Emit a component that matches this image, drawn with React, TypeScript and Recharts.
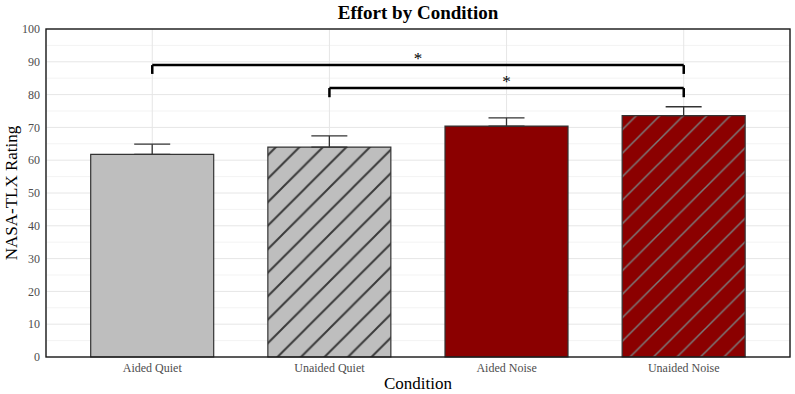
import React from 'react';
import {
  Bar,
  BarChart,
  CartesianGrid,
  Cell,
  ErrorBar,
  Label,
  ReferenceLine,
  XAxis,
  YAxis,
} from 'recharts';

const conditions = ['Aided Quiet', 'Unaided Quiet', 'Aided Noise', 'Unaided Noise'];
const meanRating = [61.8, 64.0, 70.4, 73.6];
const upperError = [3.1, 3.4, 2.5, 2.7];
const barFills = ['#bebebe', 'url(#hatchGray)', '#8b0000', 'url(#hatchRed)'];

const majorTicks = [0, 10, 20, 30, 40, 50, 60, 70, 80, 90, 100];
const minorTicks = [5, 15, 25, 35, 45, 55, 65, 75, 85, 95];

// significance brackets: [from, to, height, tick bottom]
const brackets: [string, string, number, number][] = [
  ['Aided Quiet', 'Unaided Noise', 89, 86.3],
  ['Unaided Quiet', 'Unaided Noise', 82, 79.2],
];

const data = conditions.map((name, i) => ({
  name,
  rating: meanRating[i],
  err: [0, upperError[i]],
}));

const FONT = '"Liberation Serif", "Times New Roman", serif';
const W = 795;
const H = 394;
const PLOT = { left: 46, top: 29, right: 790, bottom: 357 };

export default function App() {
  return (
    <div style={{ position: 'relative', width: W, height: H, fontFamily: FONT }}>
      <style>{`body{margin:0} .recharts-wrapper text{font-family:${FONT};}`}</style>
      <BarChart
        width={W}
        height={H}
        data={data}
        margin={{ top: PLOT.top, right: W - PLOT.right, left: 0, bottom: 17 }}
      >
        <defs>
          <pattern id="hatchGray" patternUnits="userSpaceOnUse" width={23.5} height={23.5}>
            <rect width={23.5} height={23.5} fill="#bebebe" />
            <path d="M-4,4 L4,-4 M0,23.5 L23.5,0 M19.5,27.5 L27.5,19.5" stroke="#3a3a3a" strokeWidth={2} />
          </pattern>
          <pattern id="hatchRed" patternUnits="userSpaceOnUse" width={23.5} height={23.5}>
            <rect width={23.5} height={23.5} fill="#8b0000" />
            <path d="M-4,4 L4,-4 M0,23.5 L23.5,0 M19.5,27.5 L27.5,19.5" stroke="#7a7a7a" strokeWidth={1.5} />
          </pattern>
        </defs>
        <CartesianGrid stroke="#f3f3f3" horizontalValues={minorTicks} vertical={false} />
        <CartesianGrid stroke="#e6e6e6" horizontalValues={majorTicks} />
        <XAxis
          dataKey="name"
          padding={{ left: 17.7, right: 17.7 }}
          height={20}
          tickLine={false}
          axisLine={false}
          tickSize={0}
          tickMargin={6}
          tick={{ fill: '#4d4d4d', fontSize: 12 }}
        >
          <Label
            value="Condition"
            position="insideBottom"
            offset={-12}
            style={{ fill: '#000', fontSize: 17 }}
          />
        </XAxis>
        <YAxis
          domain={[0, 100]}
          ticks={majorTicks}
          width={PLOT.left}
          tickLine={false}
          axisLine={false}
          tickSize={0}
          tickMargin={6}
          tick={{ fill: '#4d4d4d', fontSize: 12 }}
        >
          <Label
            value="NASA-TLX Rating"
            angle={-90}
            position="insideLeft"
            offset={11}
            style={{ fill: '#000', fontSize: 17, textAnchor: 'middle' }}
          />
        </YAxis>
        <Bar dataKey="rating" barSize={123} stroke="#333" strokeWidth={1.2} isAnimationActive={false}>
          {data.map((d, i) => (
            <Cell key={d.name} fill={barFills[i]} />
          ))}
          <ErrorBar dataKey="err" width={18} stroke="#333" strokeWidth={1.3} isAnimationActive={false} />
        </Bar>
        {brackets.map(([a, b, y, y0]) => (
          <React.Fragment key={a + b}>
            <ReferenceLine
              segment={[{ x: a, y }, { x: b, y }]}
              stroke="#000"
              strokeWidth={2.5}
              label={{ value: '*', position: 'top', fill: '#000', fontSize: 17, offset: 1 }}
            />
            <ReferenceLine segment={[{ x: a, y }, { x: a, y: y0 }]} stroke="#000" strokeWidth={2.5} />
            <ReferenceLine segment={[{ x: b, y }, { x: b, y: y0 }]} stroke="#000" strokeWidth={2.5} />
          </React.Fragment>
        ))}
      </BarChart>
      <svg
        width={W}
        height={H}
        style={{ position: 'absolute', left: 0, top: 0, pointerEvents: 'none' }}
      >
        <rect
          x={PLOT.left}
          y={PLOT.top}
          width={PLOT.right - PLOT.left}
          height={PLOT.bottom - PLOT.top}
          fill="none"
          stroke="#1a1a1a"
          strokeWidth={1.4}
        />
        <text
          x={(PLOT.left + PLOT.right) / 2}
          y={19}
          textAnchor="middle"
          fontFamily={FONT}
          fontWeight="bold"
          fontSize={19}
        >
          Effort by Condition
        </text>
      </svg>
    </div>
  );
}
